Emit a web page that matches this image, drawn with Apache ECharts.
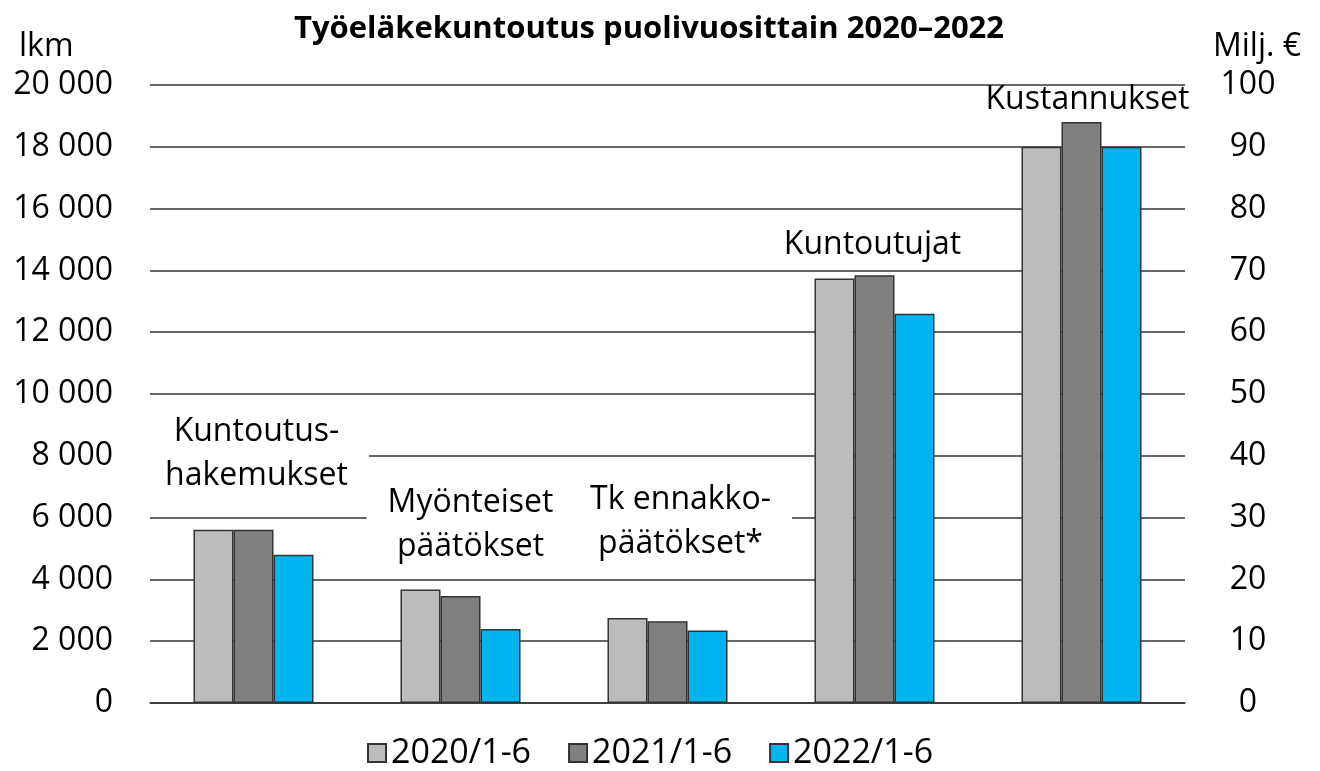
<!DOCTYPE html>
<html>
<head>
<meta charset="utf-8">
<script src="https://cdn.jsdelivr.net/npm/echarts@6/dist/echarts.min.js"></script>
<style>
html,body{margin:0;padding:0;background:#fff;}
#chart{width:1320px;height:771px;}
</style>
</head>
<body>
<div id="chart"></div>
<script>
// ---- data ----
const categories = ['Kuntoutushakemukset', 'Myönteiset päätökset', 'Tk ennakkopäätökset*', 'Kuntoutujat', 'Kustannukset'];
const categoryLabels = ['Kuntoutus-\nhakemukset', 'Myönteiset\npäätökset', 'Tk ennakko-\npäätökset*', 'Kuntoutujat', 'Kustannukset'];
const seriesNames = ['2020/1-6', '2021/1-6', '2022/1-6'];
// counts (lkm), first four categories
const count2020 = [5610, 3670, 2750, 13735];
const count2021 = [5610, 3460, 2645, 13840];
const count2022 = [4800, 2395, 2343, 12600];
// costs (Milj. €), last category
const cost2020 = 90;
const cost2021 = 94;
const cost2022 = 90;
const leftTicks = [0, 20000, 2000];
const rightTicks = [0, 100, 10];

// ---- styles ----
const FONT = '"Open Sans", "Noto Sans", sans-serif';
const colors = ['#BCBCBC', '#808080', '#00B4F0'];
const labelDistance = [28, 23, 51, 13, 5];
const labelDx = [3, 10, 13, -2, 6];
const labelBg = [true, true, true, false, false];

function fmt(v) {
  return String(v).replace(/\B(?=(\d{3})+(?!\d))/g, ' ');
}

function labelFor(i) {
  return {
    show: true,
    position: 'top',
    distance: labelDistance[i],
    offset: [labelDx[i], 0],
    formatter: categoryLabels[i],
    color: '#000',
    fontFamily: FONT,
    fontSize: 32,
    lineHeight: labelBg[i] ? 44 : 34,
    backgroundColor: labelBg[i] ? '#fff' : 'transparent',
    padding: labelBg[i] ? [4, 21] : 0
  };
}

const leftData = [count2020, count2021, count2022];
const rightData = [cost2020, cost2021, cost2022];

const series = [];
for (let s = 0; s < 3; s++) {
  const d = leftData[s].map((v, i) => (s === 1 ? { value: v, label: labelFor(i) } : v));
  d.push('-');
  series.push({
    name: seriesNames[s],
    type: 'bar',
    xAxisIndex: 0,
    yAxisIndex: 0,
    data: d,
    barGap: '0%',
    barCategoryGap: '42%',
    itemStyle: { color: colors[s], borderColor: '#333', borderWidth: 1.5 },
    label: { show: false },
    emphasis: { disabled: true },
    animation: false
  });
}
for (let s = 0; s < 3; s++) {
  const d = ['-', '-', '-', '-'];
  d.push(s === 1 ? { value: rightData[s], label: labelFor(4) } : rightData[s]);
  series.push({
    name: seriesNames[s],
    type: 'bar',
    xAxisIndex: 1,
    yAxisIndex: 1,
    data: d,
    barGap: '0%',
    barCategoryGap: '42%',
    itemStyle: { color: colors[s], borderColor: '#333', borderWidth: 1.5 },
    label: { show: false },
    emphasis: { disabled: true },
    animation: false
  });
}

const chart = echarts.init(document.getElementById('chart'), null, { renderer: 'canvas' });
chart.setOption({
  animation: false,
  backgroundColor: '#fff',
  title: [
    { text: 'Työeläkekuntoutus puolivuosittain 2020–2022', left: 644, textAlign: 'center', top: 9,
      textStyle: { fontFamily: FONT, fontWeight: 'bold', fontSize: 31, color: '#000' } },
    { text: 'lkm', left: 14, top: 26, textStyle: { fontFamily: FONT, fontWeight: 'normal', fontSize: 32, color: '#000' } },
    { text: 'Milj. €', right: 14, top: 26, textStyle: { fontFamily: FONT, fontWeight: 'normal', fontSize: 32, color: '#000' } }
  ],
  legend: {
    data: seriesNames,
    bottom: -4,
    left: 362,
    icon: 'rect',
    itemWidth: 18,
    itemHeight: 18,
    itemGap: 37,
    textStyle: { fontFamily: FONT, fontSize: 34, color: '#000' },
    selectedMode: false
  },
  grid: { left: 150, right: 135, top: 85, bottom: 68, containLabel: false },
  xAxis: [
    { type: 'category', data: categories, axisLine: { show: true, lineStyle: { color: '#333', width: 1.5 } },
      axisTick: { show: false }, axisLabel: { show: false } },
    { type: 'category', data: categories, show: false }
  ],
  yAxis: [
    { type: 'value', min: leftTicks[0], max: leftTicks[1], interval: leftTicks[2], position: 'left',
      axisLine: { show: false }, axisTick: { show: false },
      splitLine: { show: true, lineStyle: { color: '#333', width: 1.5 } },
      axisLabel: { formatter: fmt, fontFamily: FONT, fontSize: 32, color: '#000', margin: 37 } },
    { type: 'value', min: rightTicks[0], max: rightTicks[1], interval: rightTicks[2], position: 'right',
      axisLine: { show: false }, axisTick: { show: false }, splitLine: { show: false },
      axisLabel: { fontFamily: FONT, fontSize: 32, color: '#000', margin: 63, align: 'center' } }
  ],
  series: series
});
</script>
</body>
</html>
